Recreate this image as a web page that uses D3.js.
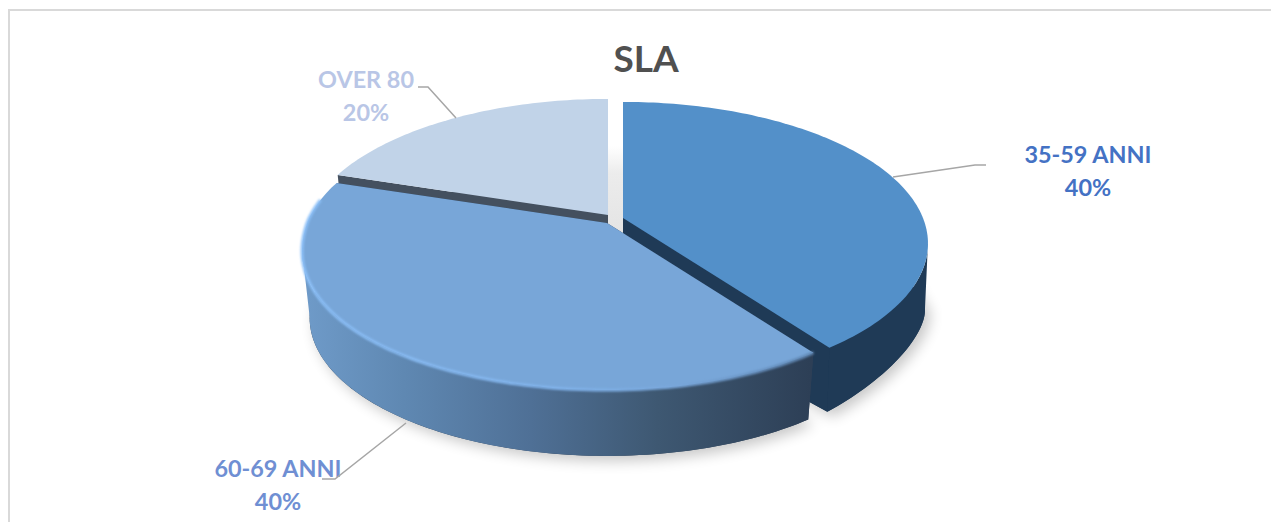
<!DOCTYPE html>
<html lang="it">
<head>
<meta charset="UTF-8" />
<title>SLA</title>
<script src="https://d3js.org/d3.v7.min.js"></script>
<style>
    html, body { margin: 0; padding: 0; background: #fff; overflow: hidden; }
    text { font-family: Lato, "Open Sans", sans-serif; font-weight: 700; }
</style>
</head>
<body>
<script>
var w = 1271, h = 522;

// dati
var categories = ["35-59 ANNI", "60-69 ANNI", "OVER 80"];
var values = [40, 40, 20];
var percentLabels = ["40%", "40%", "20%"];
var topColors = ["#5390c9", "#78a6d8", "#c1d3e8"];
var sideColors = ["#1f3a56", "#2e4057", "#44505f"];
var labelColors = ["#4472c4", "#6f8fd3", "#b9c6e6"];

// centre of each exploded slice on the picture
var centers = [[623, 218], [607, 223], [608, 215]];
var depths = [82, 70, 70];
var baseX = [0.99, 0.975, 0.975];
var labelPos = [[1088, 163], [278, 477], [366, 88]];
var leaders = [
    [[893, 177], [975, 165], [986, 165]],
    [[406, 423], [335, 479], [322, 479]],
    [[456, 118], [428, 87], [418, 87]]
];

var rx = 300, ry = 137, persp = 0.18;
var baseY = 0.975;

var svg = d3.select("body").append("svg")
    .attr("width", w)
    .attr("height", h)
    .style("display", "block");

var defs = svg.append("defs");

// flou pour les ombres
defs.append("filter").attr("id", "shadow")
    .attr("x", "-10%").attr("y", "-10%").attr("width", "120%").attr("height", "130%")
    .append("feGaussianBlur").attr("stdDeviation", 7);
defs.append("filter").attr("id", "soft")
    .attr("x", "-5%").attr("y", "-5%").attr("width", "110%").attr("height", "110%")
    .append("feGaussianBlur").attr("stdDeviation", 1);

var sideGrad = defs.append("linearGradient").attr("id", "sideGrad")
    .attr("gradientUnits", "userSpaceOnUse")
    .attr("x1", 302).attr("x2", 810).attr("y1", 0).attr("y2", 0);
[[0, "#6f9bc9"], [0.2, "#5f88b2"], [0.45, "#4f7096"], [0.7, "#3e5872"], [1, "#2d3f56"]].forEach(function(s) {
    sideGrad.append("stop").attr("offset", s[0]).attr("stop-color", s[1]);
});

var rimGrad = defs.append("linearGradient").attr("id", "rimGrad")
    .attr("gradientUnits", "userSpaceOnUse")
    .attr("x1", 302).attr("x2", 810).attr("y1", 0).attr("y2", 0);
[[0, "#8cc0f8"], [0.5, "#82b4ec"], [0.72, "#7aa8dc"], [1, "#5f86b2"]].forEach(function(s) {
    rimGrad.append("stop").attr("offset", s[0]).attr("stop-color", s[1]);
});

var gapGrad = defs.append("linearGradient").attr("id", "gapGrad")
    .attr("x1", 0).attr("x2", 0).attr("y1", 0).attr("y2", 1);
[[0, "#ffffff"], [0.3, "#ececec"], [1, "#e4e4e4"]].forEach(function(s) {
    gapGrad.append("stop").attr("offset", s[0]).attr("stop-color", s[1]);
});

var g = svg.append("g").attr("class", "tout");

// cadre: no right side, the line runs off the picture
var frame = d3.path();
frame.moveTo(9, h);
frame.lineTo(9, 10);
frame.lineTo(w, 10);
g.append("path").attr("d", frame.toString())
    .attr("fill", "none").attr("stroke", "#d9d9d9").attr("stroke-width", 2);

var pie = d3.pie().sort(null);
var slices = pie(values);

// top rim: angle from 12 o'clock, clockwise, with a bit of perspective
function topPoint(i, angle) {
    var sin = Math.sin(angle), cos = Math.cos(angle);
    var sx = 1 / (1 + persp * cos);
    // slight swell of the bevel lower left
    if (sin < 0 && cos < 0) cos = -Math.pow(-cos, 0.95);
    var sy = 1 / (1 + persp * cos);
    return [centers[i][0] + rx * sin * sx, centers[i][1] - ry * cos * sy];
}

// bottom edge, smaller; the right slice has a flatter base
function basePoint(i, angle) {
    var sin = Math.sin(angle), cos = Math.cos(angle);
    var sx = 1 / (1 + persp * cos);
    if (i === 0 && sin > 0 && cos < 0) cos = -Math.pow(-cos, 1.5);
    var sy = 1 / (1 + persp * cos);
    return [centers[i][0] + rx * baseX[i] * sin * sx,
            centers[i][1] + depths[i] - ry * baseY * cos * sy];
}

function arcPoints(fn, i, a0, a1) {
    var n = Math.max(2, Math.ceil(Math.abs(a1 - a0) / 0.02));
    return d3.range(n + 1).map(function(k) {
        return fn(i, a0 + (a1 - a0) * k / n);
    });
}

var line = d3.line();

function baseCenter(i) {
    return [centers[i][0], centers[i][1] + depths[i]];
}

function topPath(i) {
    var d = slices[i];
    return line([centers[i]].concat(arcPoints(topPoint, i, d.startAngle, d.endAngle))) + "Z";
}

function bandPath(i, a0, a1) {
    return line(arcPoints(topPoint, i, a0, a1).concat(arcPoints(basePoint, i, a1, a0))) + "Z";
}

function wallPath(i, a) {
    return line([centers[i], topPoint(i, a), basePoint(i, a), baseCenter(i)]) + "Z";
}

function basePath(i) {
    var d = slices[i];
    return line([baseCenter(i)].concat(arcPoints(basePoint, i, d.startAngle, d.endAngle))) + "Z";
}

// ombres
var shadow = g.append("g").attr("filter", "url(#shadow)").attr("fill", "#000").attr("opacity", 0.22)
    .attr("transform", "translate(5,5)");
[0, 1].forEach(function(i) {
    shadow.append("path").attr("d", basePath(i));
});
// shadow in the gap behind the first slice
g.append("rect")
    .attr("x", 608).attr("y", 146).attr("width", 16).attr("height", 90)
    .attr("fill", "url(#gapGrad)");

// the side band stops at the left and right extremes of the rim
var bandFrom = 100 * Math.PI / 180, bandTo = 260 * Math.PI / 180;
var rimEnd = 280 * Math.PI / 180;

// draw order: back slice, right slice, then front slice on top
[2, 0, 1].forEach(function(i) {
    var d = slices[i];
    var piece = g.append("g").attr("class", "slice");

    piece.append("path").attr("d", basePath(i)).attr("fill", sideColors[i]);
    piece.append("path").attr("d", wallPath(i, d.startAngle)).attr("fill", sideColors[i]);
    piece.append("path").attr("d", wallPath(i, d.endAngle)).attr("fill", sideColors[i]);

    var fill = i === 1 ? "url(#sideGrad)" : sideColors[i];
    var a0 = Math.max(d.startAngle, bandFrom), a1 = Math.min(d.endAngle, bandTo);
    if (a1 > a0) {
        piece.append("path").attr("d", bandPath(i, a0, a1)).attr("fill", fill);
    }

    piece.append("path").attr("d", topPath(i)).attr("fill", topColors[i]);

    // bright rim on the front slice
    if (i === 1) {
        piece.append("path")
            .attr("d", line(arcPoints(topPoint, i, d.startAngle, rimEnd)))
            .attr("fill", "none")
            .attr("stroke", "url(#rimGrad)")
            .attr("stroke-width", 3)
            .attr("filter", "url(#soft)");
    }
});

// etichette
var labels = g.selectAll(".label")
    .data(categories)
    .enter().append("g").attr("class", "label");

labels.append("text")
    .attr("text-anchor", "middle")
    .attr("font-size", 23.4)
    .attr("fill", function(d, i) { return labelColors[i]; })
    .attr("x", function(d, i) { return labelPos[i][0]; })
    .attr("y", function(d, i) { return labelPos[i][1]; })
    .text(function(d) { return d; });

labels.append("text")
    .attr("text-anchor", "middle")
    .attr("font-size", 23.4)
    .attr("fill", function(d, i) { return labelColors[i]; })
    .attr("x", function(d, i) { return labelPos[i][0]; })
    .attr("y", function(d, i) { return labelPos[i][1] + 33; })
    .text(function(d, i) { return percentLabels[i]; });

labels.append("path")
    .attr("d", function(d, i) { return line(leaders[i]); })
    .attr("fill", "none")
    .attr("stroke", "#a6a6a6")
    .attr("stroke-width", 1.5);

g.append("text")
    .attr("x", 646).attr("y", 72)
    .attr("text-anchor", "middle")
    .attr("font-size", 37)
    .attr("fill", "#505050")
    .text("SLA");
</script>
</body>
</html>
